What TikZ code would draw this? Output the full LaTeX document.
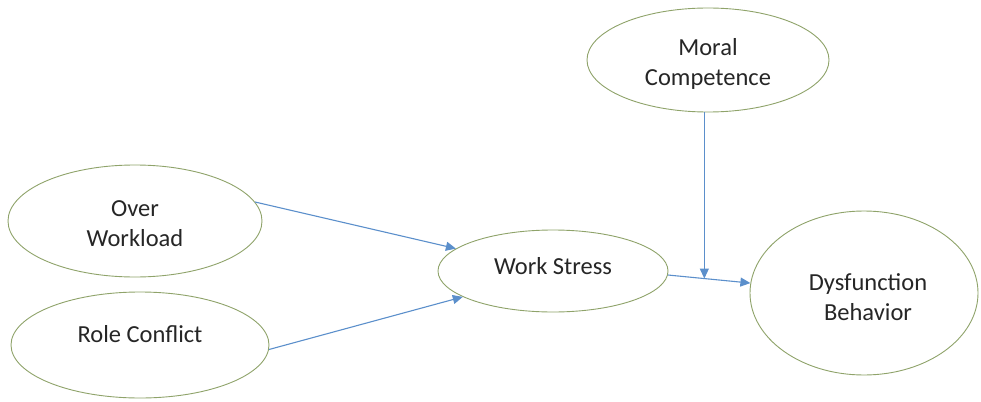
\documentclass[tikz,border=0pt]{standalone}
\usepackage{fontspec}
\setmainfont{Carlito}
\usetikzlibrary{shapes.geometric,arrows.meta,calc}
\definecolor{elline}{HTML}{8FA36A}
\definecolor{arrblue}{HTML}{5B8FCB}
\definecolor{txt}{HTML}{262626}
\tikzset{
  oval/.style={draw=elline, line width=0.9pt, ellipse, inner sep=0pt, fill=white},
  lbl/.style={align=center, text=txt, font=\fontsize{24.5}{30}\selectfont, inner sep=0pt},
  arr/.style={draw=arrblue, line width=1.1pt, -{Triangle[length=10pt,width=9pt]}}
}
\begin{document}
\begin{tikzpicture}[x=1pt,y=-1pt]
\useasboundingbox (0,0) rectangle (981,401);
\node[oval, minimum width=254pt, minimum height=112pt] (ow) at (135,221) {};
\node[oval, minimum width=258pt, minimum height=106pt] (rc) at (140,345) {};
\node[oval, minimum width=230pt, minimum height=82pt] (ws) at (553,271) {};
\node[oval, minimum width=242pt, minimum height=104pt] (mc) at (708,60) {};
\node[oval, minimum width=228pt, minimum height=164pt] (db) at (864,293) {};
\node[lbl] (owt) at (135,224) {Over\\Workload};
\node[lbl] (rct) at (140,334) {Role Conflict};
\node[lbl] (wst) at (553,266) {Work Stress};
\node[lbl] (mct) at (708,64) {Moral\\Competence};
\node[lbl] (dbt) at (868,297) {Dysfunction\\Behavior};
\draw[arr] (ow.9) -- (ws.167);
\draw[arr] (rc.-2) -- (ws.196);
\draw[arr] (ws.-2) -- (db.175);
\coordinate (m) at ($(ws.-2)!0.44!(db.175)$);
\draw[arr] (mc.266) -- (mc.266 |- m);
\end{tikzpicture}
\end{document}
